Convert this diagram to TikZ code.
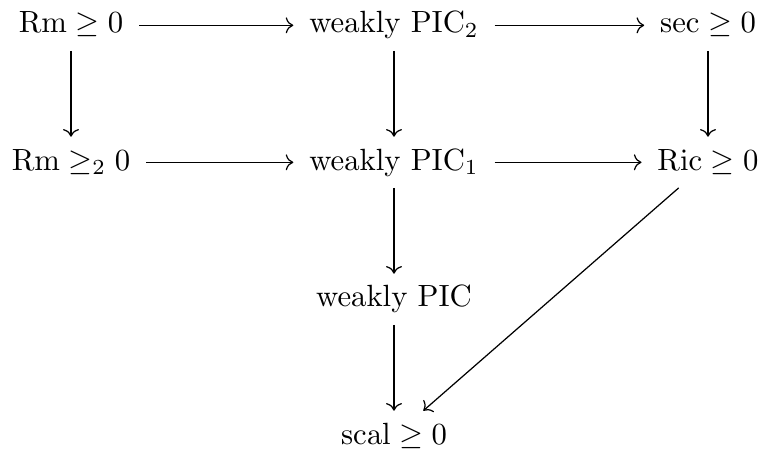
\documentclass[tikz,border=0pt]{standalone}
\usetikzlibrary{cd}
\begin{document}
\begin{tikzpicture}[x=0.3257pt,y=-0.3257pt,
  obj/.style={anchor=base, inner xsep=5pt, inner ysep=3.7pt, text height=6.94pt, text depth=1.94pt},
  arr/.style={-{cm to}, line width=0.4pt}]
\useasboundingbox (0,0) rectangle (763,451);
\node[obj] (a) at (71,33) {$\mathrm{Rm}\geq 0$};
\node[obj] (b) at (394,33) {weakly PIC$_2$};
\node[obj] (c) at (708,33) {$\sec\geq 0$};
\node[obj] (d) at (71,170) {$\mathrm{Rm}\geq_2 0$};
\node[obj] (e) at (394,170) {weakly PIC$_1$};
\node[obj] (f) at (708,170) {$\mathrm{Ric}\geq 0$};
\node[obj] (g) at (394,307) {weakly PIC};
\node[obj] (h) at (394,444) {$\mathrm{scal}\geq 0$};
\draw[arr] (a) -- (b);
\draw[arr] (b) -- (c);
\draw[arr] (d) -- (e);
\draw[arr] (e) -- (f);
\draw[arr] (a) -- (d);
\draw[arr] (b) -- (e);
\draw[arr] (c) -- (f);
\draw[arr] (e) -- (g);
\draw[arr] (g) -- (h);
\draw[arr] (f) -- (h);
\end{tikzpicture}
\end{document}
